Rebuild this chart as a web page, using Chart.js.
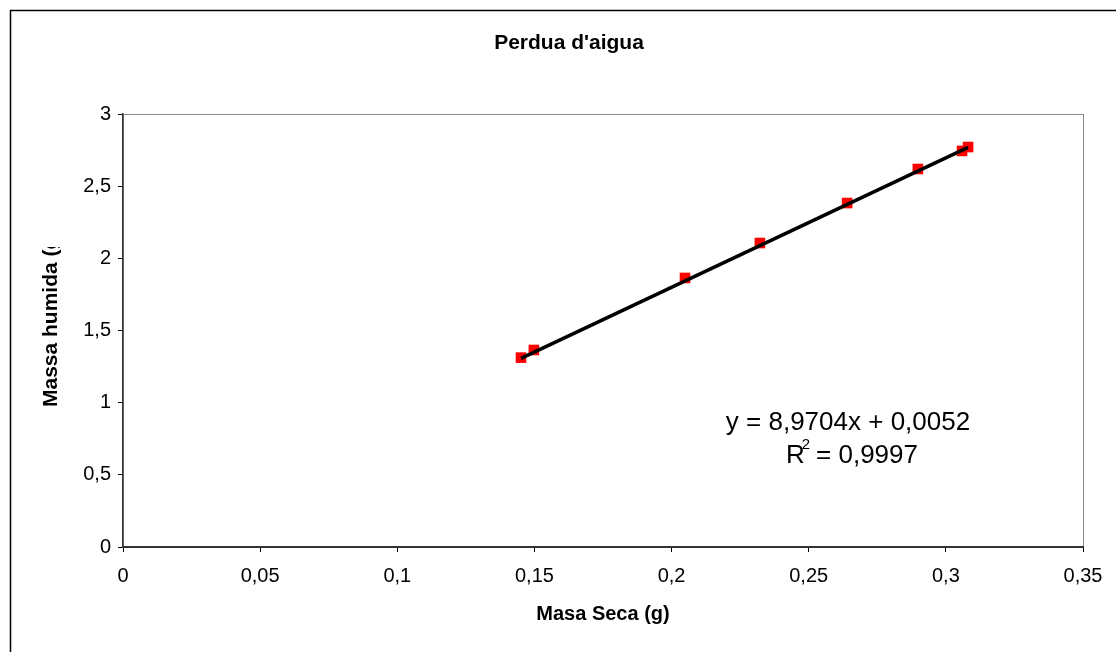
<!DOCTYPE html>
<html>
<head>
<meta charset="utf-8">
<script src="https://cdn.jsdelivr.net/npm/chart.js@4/dist/chart.umd.min.js"></script>
<style>
  html, body { margin: 0; padding: 0; background: #fff; }
  #wrap { width: 1116px; height: 652px; }
</style>
</head>
<body>
<div id="wrap"><canvas id="myChart" width="1116" height="652"></canvas></div>
<script>
// Data
const masaSeca = [0.1451, 0.1498, 0.2049, 0.2322, 0.2640, 0.2898, 0.3059, 0.3081];
const masaHumida = [1.312, 1.365, 1.864, 2.106, 2.383, 2.619, 2.744, 2.771];
const xTickLabels = ['0', '0,05', '0,1', '0,15', '0,2', '0,25', '0,3', '0,35'];
const yTickLabels = ['0', '0,5', '1', '1,5', '2', '2,5', '3'];

// Excel trendline
const slope = 8.9704;
const intercept = 0.0052;
const r2Text = '0,9997';

const points = masaSeca.map((x, i) => ({ x: x, y: masaHumida[i] }));
const xMin = Math.min(...masaSeca);
const xMax = Math.max(...masaSeca);
const trend = [xMin, xMax].map(x => ({ x: x, y: slope * x + intercept }));

const FONT = '"Liberation Sans", Arial, sans-serif';

// outer frame, plot border, title, clipped y title and equation
const extras = {
    id: 'extras',
    beforeDraw(chart) {
        const ctx = chart.ctx;
        const a = chart.chartArea;
        ctx.save();
        ctx.strokeStyle = '#000';
        ctx.lineWidth = 1.5;
        ctx.strokeRect(10.5, 10.5, 1300, 1300);
        ctx.strokeStyle = '#8a8a8a';
        ctx.lineWidth = 1;
        ctx.strokeRect(a.left + 0.5, a.top + 0.5, a.right - a.left, a.bottom - a.top);

        // chart title (Excel centres it on the whole frame)
        ctx.fillStyle = '#000';
        ctx.font = 'bold 21px ' + FONT;
        ctx.textAlign = 'center';
        ctx.textBaseline = 'middle';
        ctx.fillText("Perdua d'aigua", 569, 43);
        ctx.restore();
    },
    afterDraw(chart) {
        const ctx = chart.ctx;
        ctx.save();
        // y axis title, cut off like in the original
        ctx.beginPath();
        ctx.rect(0, 247, 120, 400);
        ctx.clip();
        ctx.translate(51, 407);
        ctx.rotate(-Math.PI / 2);
        ctx.font = 'bold 21px ' + FONT;
        ctx.fillStyle = '#000';
        ctx.textAlign = 'left';
        ctx.textBaseline = 'middle';
        ctx.fillText('Massa humida (g)', 0, 0);
        ctx.restore();

        ctx.save();
        ctx.fillStyle = '#000';
        ctx.font = '26px ' + FONT;
        ctx.textAlign = 'center';
        ctx.textBaseline = 'middle';
        const eq = 'y = ' + String(slope).replace('.', ',') + 'x + ' + intercept.toFixed(4).replace('.', ',');
        ctx.fillText(eq, 848, 423);
        // R² line
        const rest = ' = ' + r2Text;
        const wR = ctx.measureText('R').width;
        const wRest = ctx.measureText(rest).width;
        const start = 850 - (wR + wRest) / 2;
        ctx.textAlign = 'left';
        ctx.fillText('R', start, 456);
        ctx.fillText(rest, start + wR + 4, 456);
        ctx.font = '15px ' + FONT;
        ctx.fillText('2', start + wR - 3, 445);
        ctx.restore();
    }
};

const ctx = document.getElementById('myChart').getContext('2d');
const myChart = new Chart(ctx, {
    type: 'scatter',
    data: {
        datasets: [{
            type: 'line',
            label: 'Lineal',
            data: trend,
            borderColor: '#000',
            borderWidth: 3.5,
            pointRadius: 0,
            fill: false,
            order: 0
        }, {
            label: 'Perdua',
            data: points,
            pointStyle: 'rect',
            pointRadius: 7.5,
            pointHoverRadius: 7.5,
            backgroundColor: '#ff0000',
            borderColor: '#ff0000',
            borderWidth: 0,
            order: 1
        }]
    },
    options: {
        responsive: false,
        animation: false,
        layout: { padding: { left: 0, right: 33, top: 114, bottom: 0 } },
        plugins: {
            legend: { display: false },
            tooltip: { enabled: false },
            title: { display: false }
        },
        scales: {
            x: {
                type: 'linear',
                min: 0,
                max: 0.35,
                afterBuildTicks(scale) {
                    scale.ticks = xTickLabels.map((t, i) => ({ value: i * 0.05 }));
                },
                afterFit(scale) { scale.height = 105; },
                ticks: {
                    color: '#000',
                    font: { family: FONT, size: 20 },
                    padding: 12,
                    maxRotation: 0,
                    autoSkip: false,
                    callback: (v, i) => xTickLabels[i]
                },
                grid: { drawOnChartArea: false, drawTicks: true, tickLength: 5, color: '#000' },
                border: { display: true, color: '#333', width: 2 },
                title: {
                    display: true,
                    text: 'Masa Seca (g)',
                    color: '#000',
                    font: { family: FONT, size: 20, weight: 'bold' },
                    padding: { top: 0, bottom: 26 }
                }
            },
            y: {
                type: 'linear',
                min: 0,
                max: 3,
                afterBuildTicks(scale) {
                    scale.ticks = yTickLabels.map((t, i) => ({ value: i * 0.5 }));
                },
                afterFit(scale) { scale.width = 123; },
                ticks: {
                    color: '#000',
                    font: { family: FONT, size: 20 },
                    padding: 7,
                    autoSkip: false,
                    callback: (v, i) => yTickLabels[i]
                },
                grid: { drawOnChartArea: false, drawTicks: true, tickLength: 5, color: '#000' },
                border: { display: true, color: '#333', width: 1.5 }
            }
        }
    },
    plugins: [extras]
});
</script>
</body>
</html>
